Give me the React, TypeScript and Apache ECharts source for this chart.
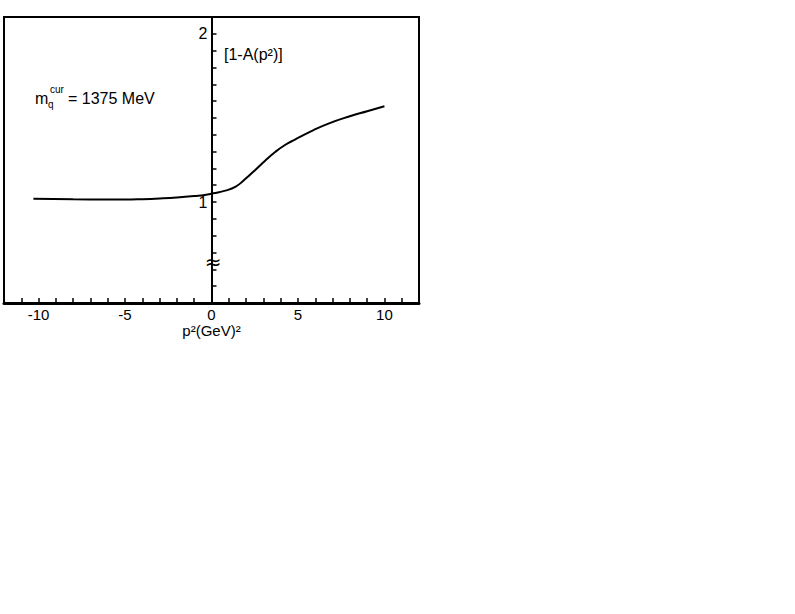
import React, { useEffect, useRef } from "react";
import * as echarts from "echarts";

const pSquared = [-10.3, -8, -6, -5, -4, -3, -2, -1, -0.4, 0.1, 0.8, 1.4, 1.9, 2.5, 3.1, 3.7, 4.25, 4.8, 5.9, 6.8, 8.0, 9.0, 10.0];
const oneMinusA = [1.019, 1.016, 1.015, 1.015, 1.017, 1.021, 1.027, 1.036, 1.042, 1.052, 1.068, 1.092, 1.132, 1.188, 1.246, 1.299, 1.339, 1.37, 1.428, 1.468, 1.51, 1.54, 1.569];
const xTickLabels = [-10, -5, 0, 5, 10];
const yTickLabels = [1, 2];

const FONT = "Liberation Sans";
const GRID_LEFT = 4;
const GRID_WIDTH = 415;
const X_MIN = -12;
const X_MAX = 12;

export default function App() {
  const ref = useRef<HTMLDivElement>(null);
  useEffect(() => {
    if (!ref.current) return;
    const chart = echarts.init(ref.current, undefined, { renderer: "svg" });
    const near = (v: number, arr: number[]) => arr.find((a) => Math.abs(a - v) < 1e-6);
    const zeroOffset = ((0 - X_MIN) / (X_MAX - X_MIN)) * GRID_WIDTH;
    chart.setOption({
      animation: false,
      backgroundColor: "#fff",
      grid: {
        left: GRID_LEFT,
        top: 17,
        width: GRID_WIDTH,
        height: 286,
        outerBoundsMode: "none",
        containLabel: false,
        show: true,
        borderColor: "#000",
        borderWidth: 2,
        backgroundColor: "transparent",
      },
      xAxis: {
        type: "value",
        min: X_MIN,
        max: X_MAX,
        interval: 1,
        axisLine: { show: true, onZero: false, lineStyle: { color: "#000", width: 3 } },
        axisTick: { show: true, inside: true, length: 5, lineStyle: { color: "#000", width: 1.5 } },
        splitLine: { show: false },
        axisLabel: {
          color: "#000",
          fontFamily: FONT,
          fontSize: 15,
          margin: 4,
          formatter: (v: number) => {
            const m = near(v, xTickLabels);
            return m === undefined ? "" : m === 0 ? "0" : m < 0 ? "-" + Math.abs(m) : String(m);
          },
        },
        name: "p²(GeV)²",
        nameLocation: "middle",
        nameGap: 20,
        nameTextStyle: { color: "#000", fontFamily: FONT, fontSize: 15 },
      },
      yAxis: {
        type: "value",
        min: 0.4,
        max: 2.1,
        interval: 0.1,
        position: "left",
        offset: -zeroOffset,
        axisLine: { show: true, onZero: false, lineStyle: { color: "#000", width: 2 } },
        axisTick: { show: true, inside: true, length: 5, lineStyle: { color: "#000", width: 1.5 } },
        splitLine: { show: false },
        axisLabel: {
          color: "#000",
          fontFamily: FONT,
          fontSize: 16,
          margin: 4,
          showMaxLabel: false,
          formatter: (v: number) => {
            const m = near(v, yTickLabels);
            return m === undefined ? "" : String(m);
          },
        },
      },
      series: [
        {
          type: "line",
          data: pSquared.map((p, i) => [p, oneMinusA[i]]),
          smooth: 0.5,
          showSymbol: false,
          lineStyle: { color: "#000", width: 2 },
        },
      ],
      graphic: [
        {
          type: "text",
          x: 224,
          y: 54,
          style: { text: "[1-A(p²)]", fill: "#000", font: `16px "${FONT}"`, textVerticalAlign: "middle" },
        },
        {
          type: "text",
          x: 35,
          y: 98,
          style: { text: "m", fill: "#000", font: `16px "${FONT}"`, textVerticalAlign: "middle" },
        },
        {
          type: "text",
          x: 48,
          y: 104,
          style: { text: "q", fill: "#000", font: `10px "${FONT}"`, textVerticalAlign: "middle" },
        },
        {
          type: "text",
          x: 50,
          y: 89,
          style: { text: "cur", fill: "#000", font: `10px "${FONT}"`, textVerticalAlign: "middle" },
        },
        {
          type: "text",
          x: 68,
          y: 98,
          style: { text: "= 1375 MeV", fill: "#000", font: `16px "${FONT}"`, textVerticalAlign: "middle" },
        },
        {
          type: "text",
          x: 213,
          y: 262,
          style: { text: "≈", fill: "#000", font: `20px "DejaVu Sans"`, textAlign: "center", textVerticalAlign: "middle" },
        },
      ],
    });
    return () => chart.dispose();
  }, []);
  return <div ref={ref} style={{ width: 795, height: 614, position: "absolute", left: 0, top: 0 }} />;
}
